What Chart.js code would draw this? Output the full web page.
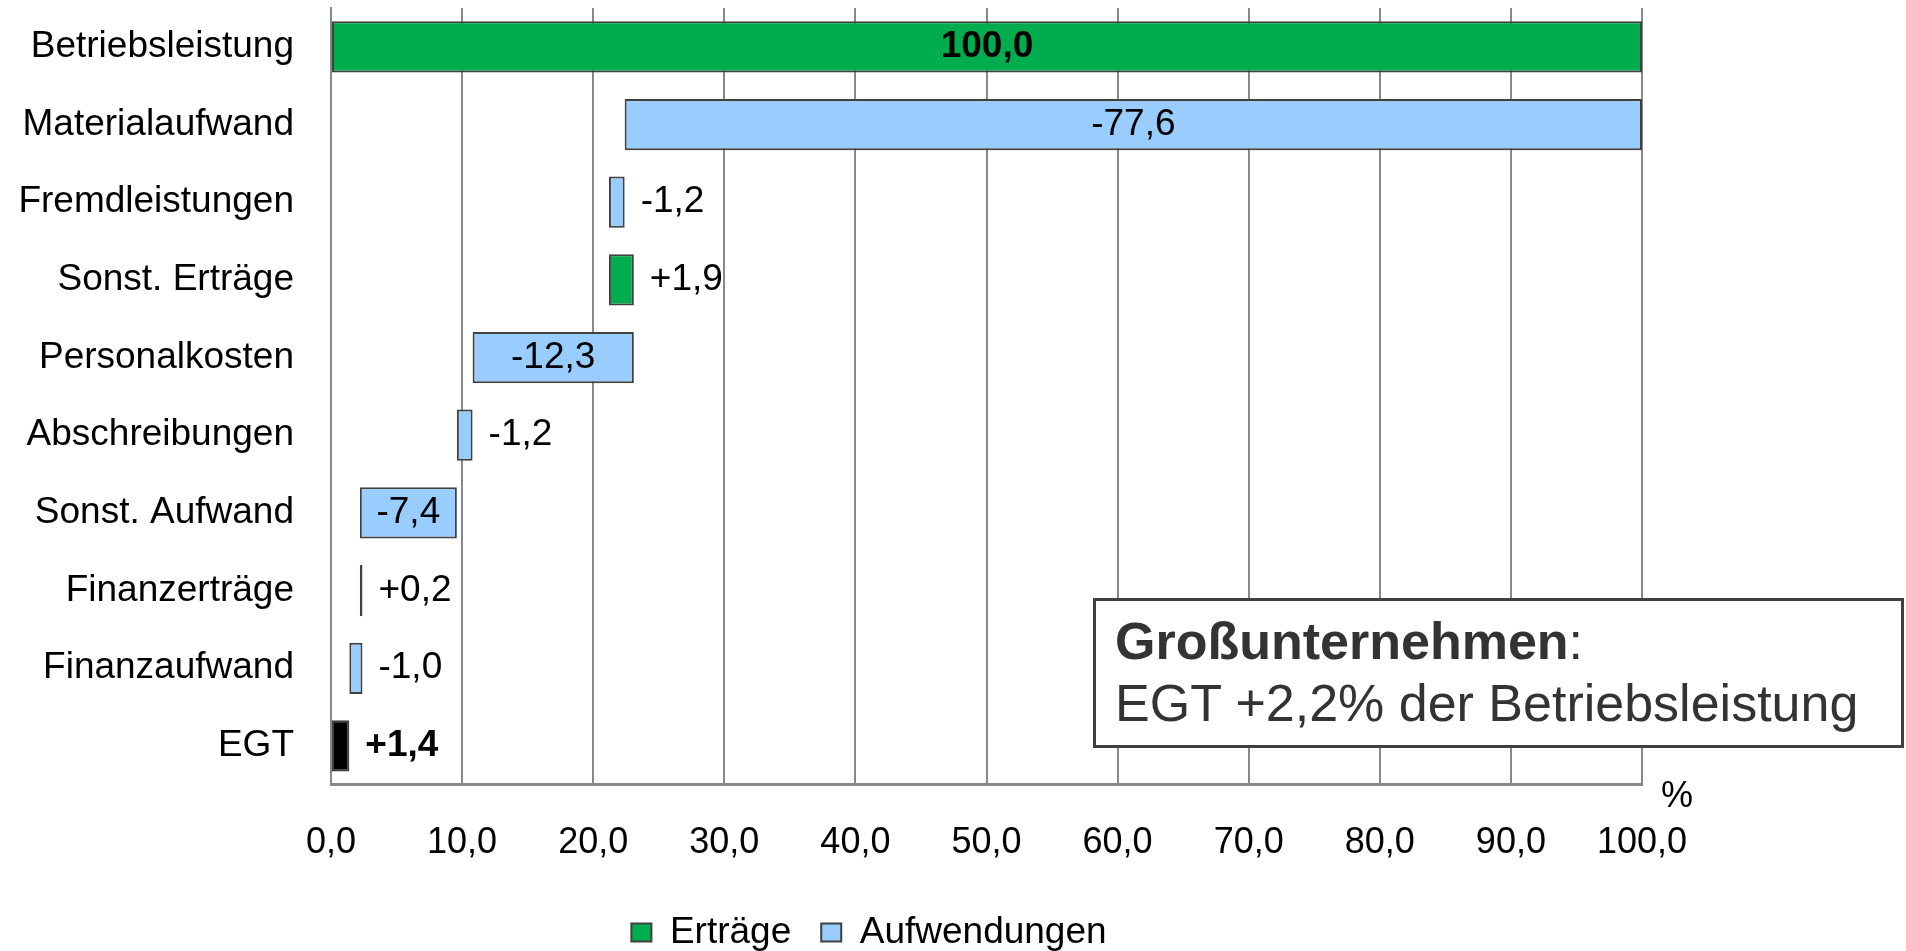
<!DOCTYPE html>
<html lang="de">
<head>
<meta charset="utf-8">
<title>Großunternehmen – Betriebsleistung</title>
<script src="https://cdn.jsdelivr.net/npm/chart.js@4"></script>
<style>
  html, body { margin: 0; padding: 0; background: #fff; }
  .wrapper { position: relative; width: 1906px; height: 951px; }
  .note {
    position: absolute; left: 1093px; top: 598px; width: 811px; height: 150px;
    box-sizing: border-box; border: 3px solid #404040; background: #fff;
    padding: 9px 0 0 19px;
    font-family: "Liberation Sans", Arial, sans-serif; font-size: 52px; line-height: 62px; color: #333;
  }
</style>
</head>
<body>
<div class="wrapper">
  <canvas id="chart1" width="1906" height="951"></canvas>
  <div class="note"><b>Großunternehmen</b>:<br>EGT +2,2% der Betriebsleistung</div>
</div>
<script>
const categories = ["Betriebsleistung", "Materialaufwand", "Fremdleistungen", "Sonst. Erträge", "Personalkosten",
  "Abschreibungen", "Sonst. Aufwand", "Finanzerträge", "Finanzaufwand", "EGT"];
const changes = [100.0, -77.6, -1.2, 1.9, -12.3, -1.2, -7.4, 0.2, -1.0, 1.4];
const kinds = ["ertrag", "aufwand", "aufwand", "ertrag", "aufwand", "aufwand", "aufwand", "ertrag", "aufwand", "egt"];
const xTicks = [0, 10, 20, 30, 40, 50, 60, 70, 80, 90, 100];

const font = "'Liberation Sans', Arial, sans-serif";

// floating bars: running total for the waterfall, EGT is a total from 0
const ranges = [];
let running = 0;
changes.forEach((c, i) => {
  if (kinds[i] === "egt") {
    ranges.push([0, c]);
    return;
  }
  const next = running + c;
  ranges.push([Math.min(running, next), Math.max(running, next)]);
  running = next;
});

function pick(kind) {
  return ranges.map((r, i) => (kinds[i] === kind ? r : null));
}

function formatValue(i) {
  const v = changes[i];
  const s = Math.abs(v).toFixed(1).replace(".", ",");
  if (i === 0) return s;
  return (v < 0 ? "-" : "+") + s;
}

const valueLabels = {
  id: "valueLabels",
  afterDatasetsDraw(chart) {
    const ctx = chart.ctx;
    ctx.save();
    ctx.textBaseline = "middle";
    ctx.fillStyle = "#000";
    chart.data.datasets.forEach((ds, d) => {
      const meta = chart.getDatasetMeta(d);
      meta.data.forEach((bar, i) => {
        if (!ds.data[i]) return;
        const bold = i === 0 || kinds[i] === "egt";
        ctx.font = (bold ? "bold " : "") + "37px " + font;
        const text = formatValue(i);
        const left = Math.min(bar.x, bar.base);
        const right = Math.max(bar.x, bar.base);
        const w = ctx.measureText(text).width;
        if (right - left > w + 16) {
          ctx.textAlign = "center";
          ctx.fillText(text, (left + right) / 2, bar.y);
        } else {
          ctx.textAlign = "left";
          ctx.fillText(text, right + 16, bar.y);
        }
      });
    });
    // unit next to the axis end
    const xs = chart.scales.x;
    ctx.font = "36px " + font;
    ctx.textAlign = "center";
    ctx.fillText("%", xs.getPixelForValue(100) + 35, chart.chartArea.bottom + 12);
    ctx.restore();
  }
};

const legendShift = {
  id: "legendShift",
  afterLayout(chart) {
    const lg = chart.legend;
    lg.left += 48;
    lg.right += 48;
    lg.top -= 18;
    lg.bottom -= 18;
  }
};

document.addEventListener("DOMContentLoaded", function () {
  const ctx = document.getElementById("chart1").getContext("2d");
  new Chart(ctx, {
    type: "bar",
    data: {
      labels: categories,
      datasets: [
        {
          label: "Erträge",
          data: pick("ertrag"),
          backgroundColor: "#00AD4E",
          borderColor: "#404040",
          borderWidth: 2,
          borderSkipped: false,
          grouped: false,
        },
        {
          label: "Aufwendungen",
          data: pick("aufwand"),
          backgroundColor: "#99CCFF",
          borderColor: "#404040",
          borderWidth: 2,
          borderSkipped: false,
          grouped: false,
        },
        {
          label: "EGT",
          data: pick("egt"),
          backgroundColor: "#000000",
          borderColor: "#404040",
          borderWidth: 2,
          borderSkipped: false,
          grouped: false,
        },
      ],
    },
    options: {
      indexAxis: "y",
      responsive: false,
      animation: false,
      categoryPercentage: 1,
      barPercentage: 0.66,
      layout: { padding: { top: 8, right: 264, bottom: -28, left: 0 } },
      plugins: {
        tooltip: { enabled: false },
        legend: {
          position: "bottom",
          labels: {
            color: "#000",
            font: { family: font, size: 37 },
            boxWidth: 20,
            boxHeight: 18,
            padding: 30,
            filter: (item) => item.text !== "EGT",
          },
        },
      },
      scales: {
        x: {
          min: 0,
          max: 100,
          afterBuildTicks: (scale) => {
            scale.ticks = xTicks.map((v) => ({ value: v }));
          },
          grid: { color: "#888", lineWidth: 2, drawTicks: false },
          border: { color: "#888", width: 3 },
          ticks: {
            color: "#000",
            padding: 37,
            maxRotation: 0,
            font: { family: font, size: 36 },
            callback: (v) => Number(v).toFixed(1).replace(".", ","),
          },
        },
        y: {
          afterFit: (scale) => {
            scale.width = 331;
            scale.paddingTop = 0;
            scale.paddingBottom = 0;
          },
          grid: { display: false, drawTicks: false },
          border: { color: "#888", width: 2 },
          ticks: {
            color: "#000",
            padding: 37,
            font: { family: font, size: 37 },
          },
        },
      },
    },
    plugins: [valueLabels, legendShift],
  });
});
</script>
</body>
</html>
